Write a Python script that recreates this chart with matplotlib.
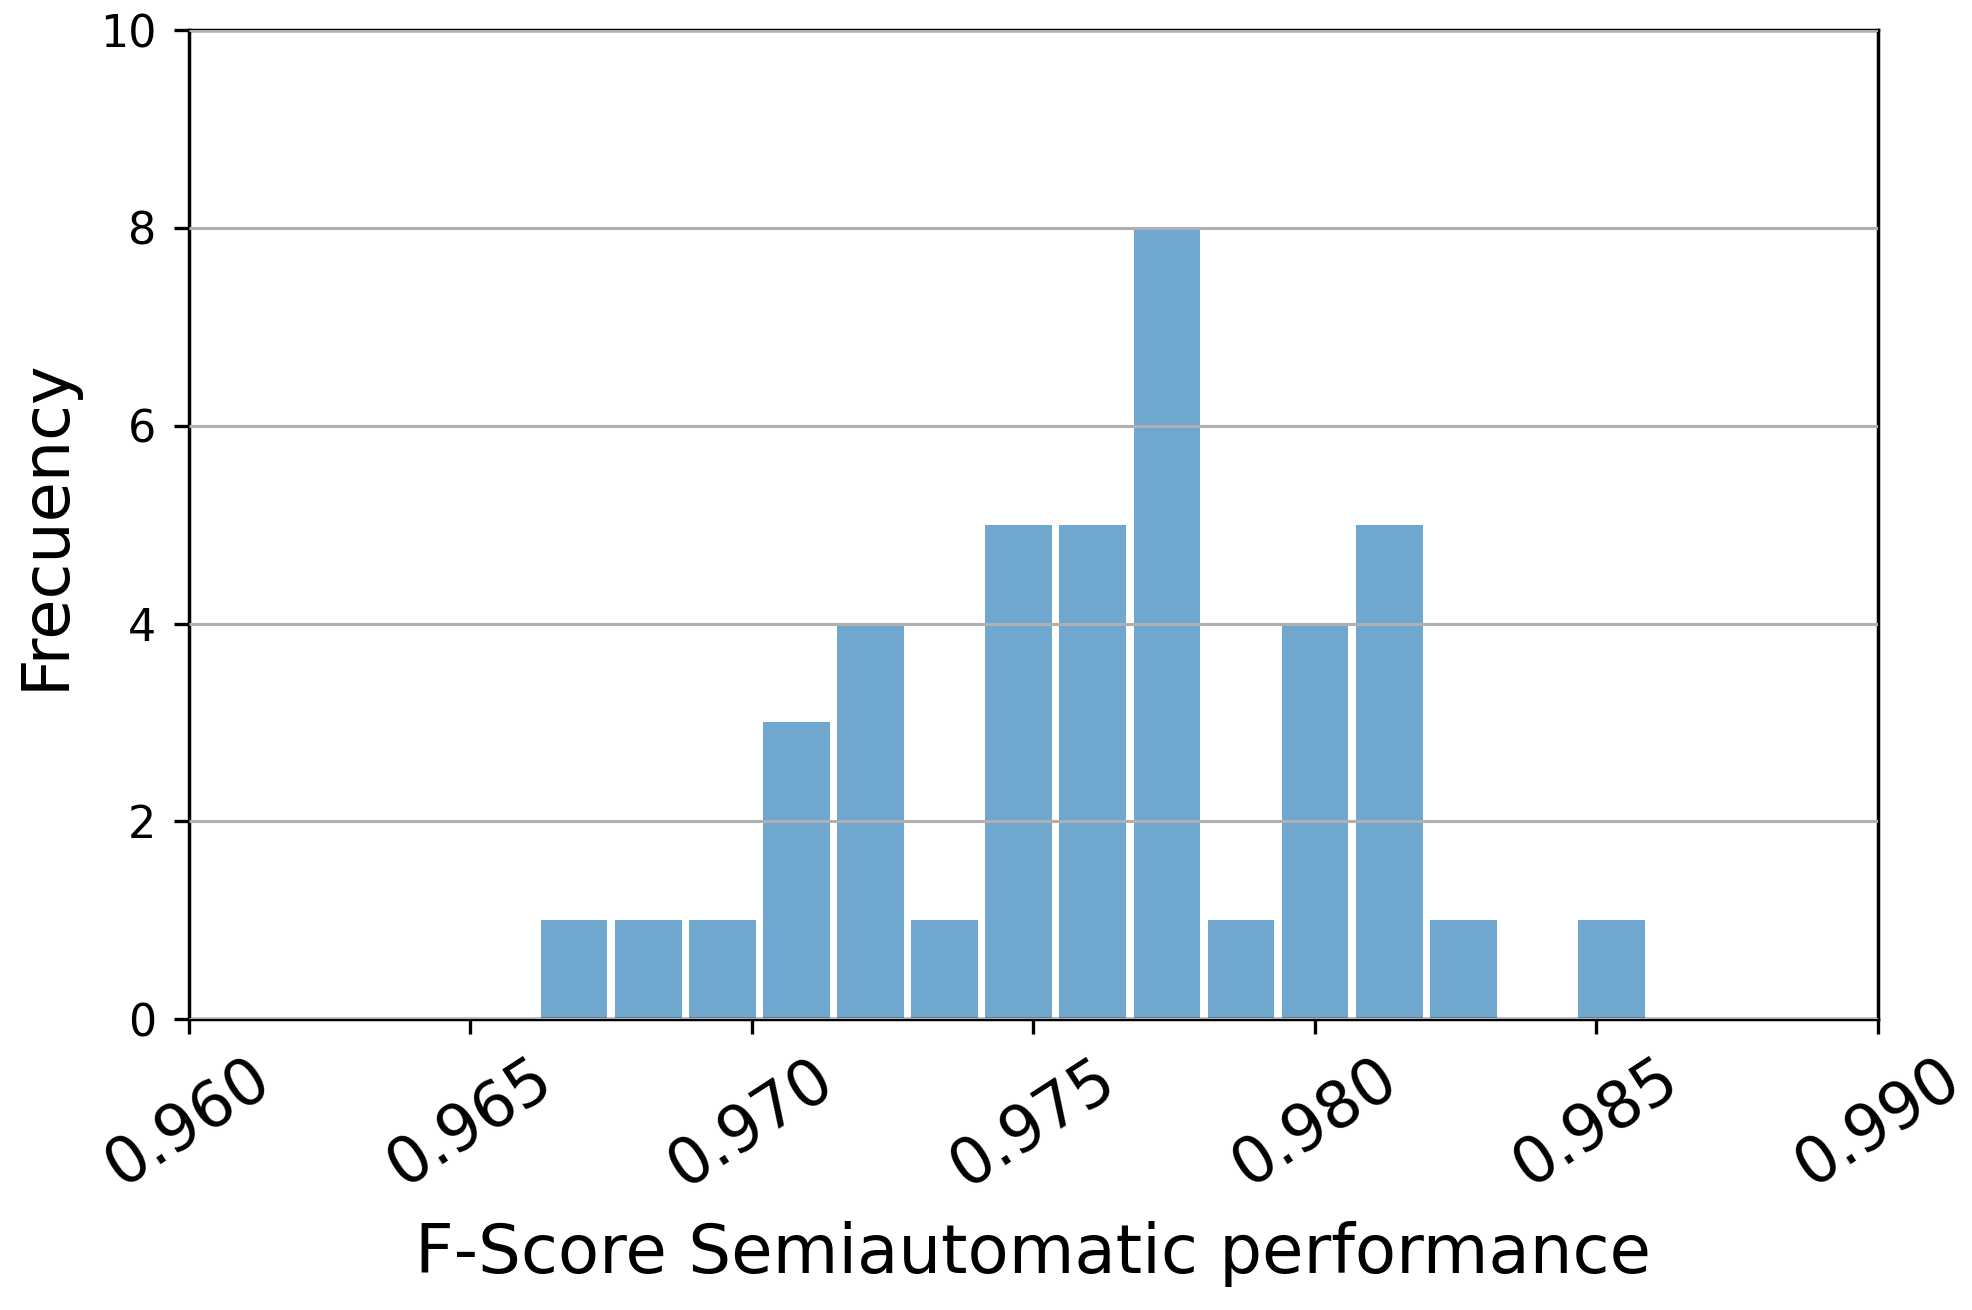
import numpy as np
from matplotlib import pyplot as plt

# histogram of F-Score values (15 equal bins between min and max score)
score_min = 0.96619
score_max = 0.98593
n_bins = 15
counts = [1, 1, 1, 3, 4, 1, 5, 5, 8, 1, 4, 5, 1, 0, 1]

x_ticks = [0.960, 0.965, 0.970, 0.975, 0.980, 0.985, 0.990]
y_ticks = [0, 2, 4, 6, 8, 10]

if "__main__" == __name__:
    edges = np.linspace(score_min, score_max, n_bins + 1)
    centers = (edges[:-1] + edges[1:]) / 2

    fig = plt.figure(figsize=(19.72, 13.10), dpi=100)
    ax = fig.add_axes([0.0956, 0.222, 0.8566, 0.755])

    ax.hist(centers, bins=edges, weights=counts, rwidth=0.9, color='#6fa7cf', zorder=1)
    ax.grid(axis='y', color='#b0b0b0', linewidth=2.2, zorder=2)
    ax.set_axisbelow(False)

    ax.set_xlim(0.960, 0.990)
    ax.set_ylim(0, 10)
    ax.set_xticks(x_ticks)
    ax.set_xticklabels([f"{t:.3f}" for t in x_ticks], rotation=33, fontsize=46)
    ax.set_yticks(y_ticks)
    ax.set_yticklabels([str(t) for t in y_ticks], fontsize=32)
    ax.tick_params(axis='both', length=11, width=2.4)
    ax.tick_params(axis='y', pad=12)
    ax.tick_params(axis='x', pad=9)

    for s in ax.spines.values():
        s.set_linewidth(2.5)

    ax.set_xlabel('F-Score Semiautomatic performance', fontsize=48.5, labelpad=16)
    ax.set_ylabel('Frecuency', fontsize=47, labelpad=16)

    plt.savefig('out.png', dpi=100)
